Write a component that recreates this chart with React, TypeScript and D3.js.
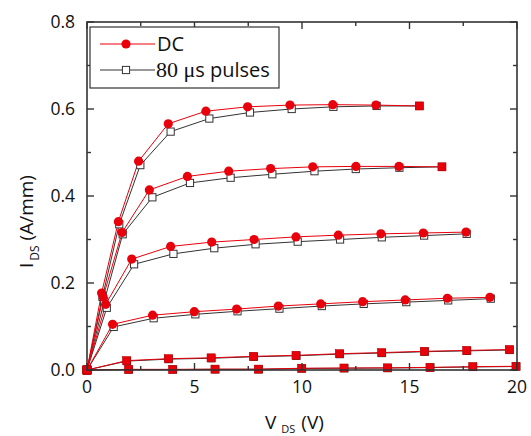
import React from "react";
import * as d3 from "d3";

// ---- data (V_DS in V, I_DS in A/mm) ----
const dcV1 = [0, 0.68, 1.46, 2.4, 3.78, 5.53, 7.47, 9.44, 11.43, 13.44, 15.46];
const dcI1 = [0, 0.177, 0.341, 0.48, 0.566, 0.595, 0.605, 0.609, 0.61, 0.609, 0.607];
const pV1 = [0, 0.72, 1.5, 2.48, 3.89, 5.69, 7.58, 9.52, 11.46, 13.47, 15.46];
const pI1 = [0, 0.168, 0.335, 0.471, 0.548, 0.578, 0.592, 0.6, 0.605, 0.607, 0.607];

const dcV2 = [0, 0.75, 1.63, 2.9, 4.67, 6.59, 8.54, 10.5, 12.51, 14.51, 16.51];
const dcI2 = [0, 0.168, 0.316, 0.414, 0.445, 0.457, 0.463, 0.467, 0.468, 0.468, 0.467];
const pV2 = [0, 0.8, 1.66, 3.04, 4.79, 6.68, 8.62, 10.58, 12.5, 14.53, 16.51];
const pI2 = [0, 0.158, 0.312, 0.397, 0.43, 0.442, 0.45, 0.457, 0.462, 0.465, 0.467];

const dcV3 = [0, 0.87, 2.08, 3.89, 5.8, 7.77, 9.72, 11.69, 13.67, 15.64, 17.63];
const dcI3 = [0, 0.151, 0.255, 0.284, 0.294, 0.3, 0.306, 0.31, 0.313, 0.315, 0.317];
const pV3 = [0, 0.92, 2.19, 4.02, 5.92, 7.84, 9.8, 11.77, 13.71, 15.68, 17.66];
const pI3 = [0, 0.143, 0.243, 0.267, 0.28, 0.289, 0.295, 0.3, 0.305, 0.309, 0.313];

const dcV4 = [0, 1.19, 3.05, 4.99, 6.96, 8.9, 10.87, 12.82, 14.8, 16.76, 18.74];
const dcI4 = [0, 0.105, 0.126, 0.134, 0.14, 0.147, 0.152, 0.157, 0.161, 0.165, 0.167];
const pV4 = [0, 1.24, 3.1, 5.04, 7.0, 8.95, 10.92, 12.87, 14.85, 16.8, 18.78];
const pI4 = [0, 0.099, 0.119, 0.128, 0.135, 0.141, 0.147, 0.152, 0.156, 0.16, 0.164];

const dcV5 = [0, 1.84, 3.78, 5.77, 7.74, 9.72, 11.74, 13.7, 15.69, 17.66, 19.64];
const dcI5 = [0, 0.0215, 0.026, 0.028, 0.0314, 0.0337, 0.0375, 0.04, 0.043, 0.045, 0.047];
const pV5 = [0, 1.86, 3.8, 5.79, 7.76, 9.74, 11.76, 13.72, 15.71, 17.68, 19.66];
const pI5 = [0, 0.0205, 0.025, 0.027, 0.0304, 0.0327, 0.0365, 0.039, 0.042, 0.044, 0.046];

const dcV6 = [0, 1.93, 3.98, 5.95, 7.97, 9.98, 11.95, 13.97, 15.95, 17.94, 19.95];
const dcI6 = [0, 0.0015, 0.0015, 0.002, 0.002, 0.004, 0.0046, 0.005, 0.006, 0.0077, 0.0085];
const pV6 = [0, 1.95, 4.0, 5.97, 7.99, 10.0, 11.97, 13.99, 15.97, 17.96, 19.97];
const pI6 = [0, 0.001, 0.001, 0.0015, 0.0015, 0.0035, 0.004, 0.0045, 0.0055, 0.007, 0.008];

const xTicks = [0, 5, 10, 15, 20];
const yTicks = [0, 0.2, 0.4, 0.6, 0.8];
const legendLabels = ["DC", "80 \u03bcs pulses"];

type Curve = { dcV: number[]; dcI: number[]; pV: number[]; pI: number[]; dcSquare: boolean };
const curves: Curve[] = [
  { dcV: dcV1, dcI: dcI1, pV: pV1, pI: pI1, dcSquare: false },
  { dcV: dcV2, dcI: dcI2, pV: pV2, pI: pI2, dcSquare: false },
  { dcV: dcV3, dcI: dcI3, pV: pV3, pI: pI3, dcSquare: false },
  { dcV: dcV4, dcI: dcI4, pV: pV4, pI: pI4, dcSquare: false },
  { dcV: dcV5, dcI: dcI5, pV: pV5, pI: pI5, dcSquare: true },
  { dcV: dcV6, dcI: dcI6, pV: pV6, pI: pI6, dcSquare: true },
];

const W = 531;
const H = 436;
const L = 87, R = 517, T = 22, B = 370;
const FONT = "'Open Sans', 'Noto Sans', sans-serif";
const RED = "#e8000b";
const AX = "#333";

export default function App() {
  const x = d3.scaleLinear().domain([0, 20]).range([L, R]);
  const y = d3.scaleLinear().domain([0, 0.8]).range([B, T]);
  const line = d3
    .line<[number, number]>()
    .x((d) => x(d[0]))
    .y((d) => y(d[1]));

  const xMinor = d3.range(0, 20.001, 2.5);
  const yMinor = d3.range(0, 0.8001, 0.1);
  const isMajorX = (v: number) => Math.abs(v / 5 - Math.round(v / 5)) < 1e-6;
  const isMajorY = (v: number) => Math.abs(v / 0.2 - Math.round(v / 0.2)) < 1e-6;

  return (
    <svg width={W} height={H} style={{ position: "absolute", left: 0, top: 0 }}>
      <rect x={0} y={0} width={W} height={H} fill="#fff" />
      {/* pulsed lines */}
      {curves.map((c, i) => (
        <path
          key={"pl" + i}
          d={line(c.pV.map((v, j) => [v, c.pI[j]]) as [number, number][]) || ""}
          fill="none"
          stroke="#333"
          strokeWidth={1}
        />
      ))}
      {/* DC lines */}
      {curves.map((c, i) => (
        <path
          key={"dl" + i}
          d={line(c.dcV.map((v, j) => [v, c.dcI[j]]) as [number, number][]) || ""}
          fill="none"
          stroke={RED}
          strokeWidth={1}
        />
      ))}
      {/* pulsed markers */}
      {curves.map((c, i) =>
        c.pV.map((v, j) => (
          <rect
            key={"pm" + i + "-" + j}
            x={x(v) - 3.6}
            y={y(c.pI[j]) - 3.6}
            width={7.2}
            height={7.2}
            fill="#fff"
            stroke="#333"
            strokeWidth={1}
          />
        ))
      )}
      {/* DC markers */}
      {curves.map((c, i) =>
        c.dcV.map((v, j) =>
          c.dcSquare || j === 0 || (i === 0 && j === c.dcV.length - 1) || (i === 1 && j === c.dcV.length - 1) ? (
            <rect
              key={"dm" + i + "-" + j}
              x={x(v) - 4}
              y={y(c.dcI[j]) - 4}
              width={8}
              height={8}
              fill={RED}
              stroke="#b00"
              strokeWidth={0.6}
            />
          ) : (
            <circle key={"dm" + i + "-" + j} cx={x(v)} cy={y(c.dcI[j])} r={4.6} fill={RED} />
          )
        )
      )}

      {/* frame */}
      <rect x={L} y={T} width={R - L} height={B - T} fill="none" stroke={AX} strokeWidth={1.6} />
      {/* x ticks bottom & top */}
      {xMinor.map((v) => {
        const len = isMajorX(v) ? 7 : 4;
        return (
          <g key={"xt" + v}>
            <line x1={x(v)} x2={x(v)} y1={B} y2={B - len} stroke={AX} strokeWidth={1.4} />
            <line x1={x(v)} x2={x(v)} y1={T} y2={T + len} stroke={AX} strokeWidth={1.4} />
          </g>
        );
      })}
      {yMinor.map((v) => {
        const len = isMajorY(v) ? 7 : 4;
        return (
          <g key={"yt" + v}>
            <line x1={L} x2={L + len} y1={y(v)} y2={y(v)} stroke={AX} strokeWidth={1.4} />
            <line x1={R} x2={R - len} y1={y(v)} y2={y(v)} stroke={AX} strokeWidth={1.4} />
          </g>
        );
      })}
      {/* tick labels */}
      {xTicks.map((v) => (
        <text key={"xl" + v} x={x(v)} y={393} textAnchor="middle" fontFamily={FONT} fontSize={17.5} fill="#111">
          {String(v)}
        </text>
      ))}
      {yTicks.map((v) => (
        <text key={"yl" + v} x={75} y={y(v) + 6} textAnchor="end" fontFamily={FONT} fontSize={17.5} fill="#111">
          {v.toFixed(1)}
        </text>
      ))}
      {/* axis titles */}
      <text x={265} y={429} fontFamily={FONT} fontSize={19} fill="#111">
        V
        <tspan fontSize={11} dx={5} dy={4}>DS</tspan>
        <tspan dx={6} dy={-4}>(V)</tspan>
      </text>
      <text transform="translate(33,268) rotate(-90)" fontFamily={FONT} fontSize={19} fill="#111">
        I
        <tspan fontSize={12} dx={2} dy={6}>DS</tspan>
        <tspan dx={5} dy={-6}>(A/mm)</tspan>
      </text>

      {/* legend */}
      <rect x={90} y={27} width={189} height={61} fill="#fff" stroke={AX} strokeWidth={1.2} />
      <line x1={100} x2={155} y1={44} y2={44} stroke={RED} strokeWidth={1} />
      <circle cx={126} cy={44} r={4.6} fill={RED} />
      <text x={157} y={51} fontFamily={FONT} fontSize={20} fill="#111">
        {legendLabels[0]}
      </text>
      <line x1={100} x2={155} y1={70} y2={70} stroke="#333" strokeWidth={1} />
      <rect x={126 - 3.6} y={70 - 3.6} width={7.2} height={7.2} fill="#fff" stroke="#333" strokeWidth={1} />
      <text x={156} y={77} fontFamily={FONT} fontSize={20} fill="#111">
        <tspan fontFamily="'Liberation Serif', 'DejaVu Serif', serif" fontSize={22}>
          {legendLabels[1].slice(0, 4)}
        </tspan>
        <tspan>{legendLabels[1].slice(4)}</tspan>
      </text>
    </svg>
  );
}
